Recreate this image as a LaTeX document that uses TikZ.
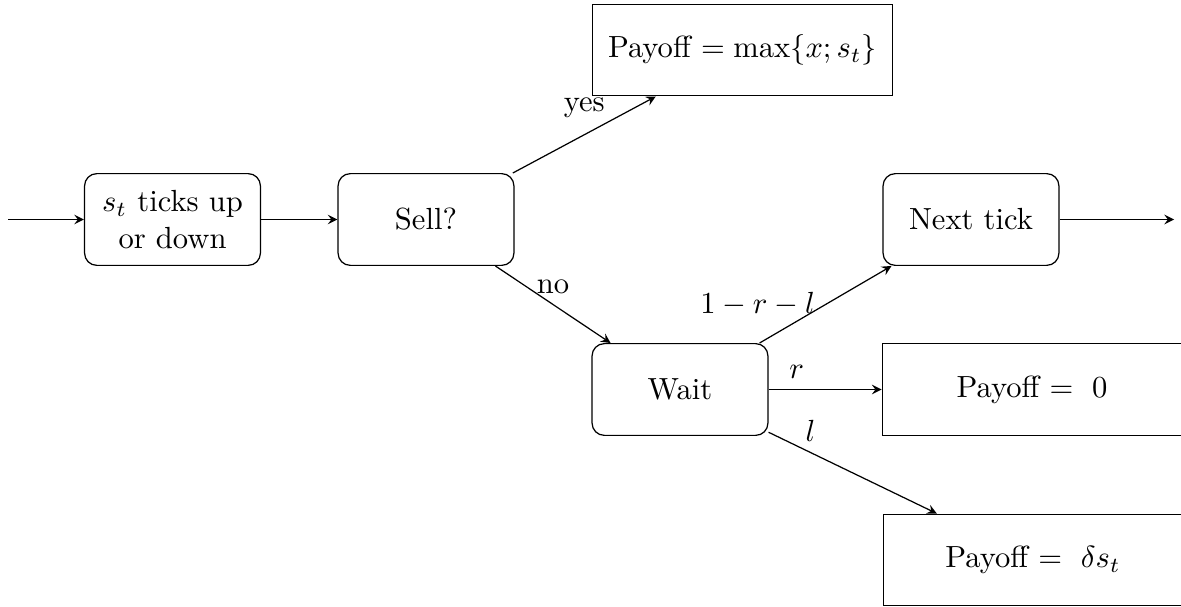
\documentclass[tikz,border=0pt]{standalone}
\begin{document}
\begin{tikzpicture}[x=0.327pt,y=-0.327pt,>=stealth,
  rbox/.style={draw, rounded corners, minimum width=57.5pt, minimum height=30pt, align=center, inner sep=0pt},
  pbox/.style={draw, minimum width=98pt, minimum height=30pt, inner sep=0pt}]
\useasboundingbox (0,0) rectangle (1181,606);
\clip (0,0) rectangle (1181,606);
\node[rbox] (tick) at (172.5,219.5) {$s_t$ ticks up\\or down};
\node[rbox] (sell) at (426,219.5) {Sell?};
\node[pbox] (pmax) at (742.5,50) {Payoff $=\max\{x;s_t\}$};
\node[rbox] (next) at (971,219.5) {Next tick};
\node[rbox] (wait) at (680,389.5) {Wait};
\node[pbox] (pzero) at (1032,389.5) {Payoff $=\ 0$};
\node[pbox] (pdelta) at (1033,560) {Payoff $=\ \delta s_t$};
\coordinate (in) at (8,219.5);
\coordinate (out) at (1174,219.5);
\draw[->] (in) -- (tick);
\draw[->] (tick) -- (sell);
\draw[->] (sell) -- node[midway,above=2pt]{yes} (pmax);
\draw[->] (sell) -- node[midway,above]{no} (wait);
\draw[->] (wait) -- node[midway,left]{$1-r-l$} (next);
\draw[->] (wait) -- node[pos=0.25,above]{$r$} (pzero);
\draw[->] (wait) -- node[pos=0.25,above]{$l$} (pdelta);
\draw[->] (next) -- (out);
\end{tikzpicture}
\end{document}
